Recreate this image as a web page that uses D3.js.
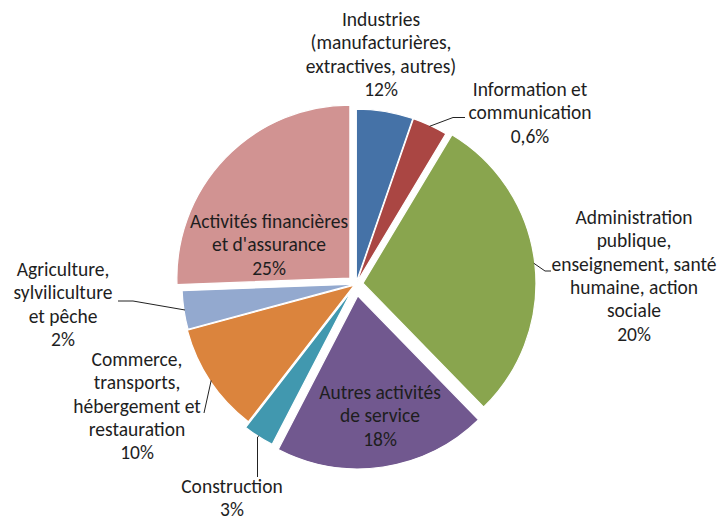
<!DOCTYPE html>
<html>
<head>
<meta charset="utf-8">
<script src="https://cdn.jsdelivr.net/npm/d3@7"></script>
<style>
  html, body { margin: 0; padding: 0; background: #fff; }
  svg { display: block; }
  text { font-family: Carlito, Calibri, Lato, "Open Sans", sans-serif; fill: #1e1e1e; }
</style>
</head>
<body>
<svg id="chart" width="725" height="521"></svg>
<script>
// ---- data ----
const categories = [
  "Industries (manufacturières, extractives, autres)",
  "Information et communication",
  "Administration publique, enseignement, santé humaine, action sociale",
  "Autres activités de service",
  "Construction",
  "Commerce, transports, hébergement et restauration",
  "Agriculture, sylviliculture et pêche",
  "Activités financières et d'assurance"
];
// slice sizes (%)
const values = [5.3, 3.3, 29.1, 19.9, 2.9, 10.3, 3.6, 25.6];
// percentages printed in the data labels
const labelPct = ["12%", "0,6%", "20%", "18%", "3%", "10%", "2%", "25%"];
// label text lines (without percentage)
const labelLines = [
  ["Industries", "(manufacturières,", "extractives, autres)"],
  ["Information et", "communication"],
  ["Administration", "publique,", "enseignement, santé", "humaine, action", "sociale"],
  ["Autres activités", "de service"],
  ["Construction"],
  ["Commerce,", "transports,", "hébergement et", "restauration"],
  ["Agriculture,", "sylviliculture", "et pêche"],
  ["Activités financières", "et d'assurance"]
];
const colors = ["#4572A7", "#AA4643", "#89A54E", "#71588F", "#4198AF", "#DB843D", "#93A9CF", "#D19392"];

// ---- layout ----
const cx = 356, cy = 284, R = 173;
const explode = [2, 2, 7, 12, 8, 2, 1, 8.5];
const lineH = 23.3;
const fontSize = 19.5;
// label anchor: centre x, first baseline y
const labelPos = [
  [381, 26], [530, 96], [634, 224], [380, 399],
  [232, 493], [137, 366], [63, 276], [269, 228]
];
// leader lines: intermediate/end points (null = no leader)
const leaderEnds = [
  null,
  [[453, 117.5], [465, 117.5]],
  [[545, 271], [551, 271]],
  null,
  [[257.5, 437], [257.5, 477]],
  [[204, 413]],
  [[133, 301], [118, 301]],
  null
];

const svg = d3.select("#chart");
const pie = d3.pie().sort(null).value(d => d).startAngle(0).endAngle(2 * Math.PI);
const arcs = pie(values);
const arc = d3.arc().innerRadius(0).outerRadius(R);

const g = svg.append("g").attr("transform", `translate(${cx},${cy})`);

const apex = arcs.map((a, i) => {
  const m = (a.startAngle + a.endAngle) / 2;
  return [explode[i] * Math.sin(m), -explode[i] * Math.cos(m)];
});

g.selectAll("path.slice")
  .data(arcs)
  .join("path")
  .attr("class", "slice")
  .attr("d", arc)
  .attr("transform", (a, i) => `translate(${apex[i][0]},${apex[i][1]})`)
  .attr("fill", (a, i) => colors[i])
  .attr("stroke", "#fff")
  .attr("stroke-width", 1.2);

// leader lines
arcs.forEach((a, i) => {
  if (!leaderEnds[i]) return;
  const m = (a.startAngle + a.endAngle) / 2;
  const sx = cx + apex[i][0] + (R - 1) * Math.sin(m);
  const sy = cy + apex[i][1] - (R - 1) * Math.cos(m);
  const pts = [[sx, sy]].concat(leaderEnds[i]);
  svg.append("path")
    .attr("d", d3.line()(pts))
    .attr("fill", "none")
    .attr("stroke", "#222")
    .attr("stroke-width", 1);
});

// labels
arcs.forEach((a, i) => {
  const lines = labelLines[i].concat([labelPct[i]]);
  const t = svg.append("text")
    .attr("text-anchor", "middle")
    .attr("font-size", fontSize);
  lines.forEach((ln, k) => {
    t.append("tspan")
      .attr("x", labelPos[i][0])
      .attr("y", labelPos[i][1] + k * lineH)
      .text(ln);
  });
});
</script>
</body>
</html>
